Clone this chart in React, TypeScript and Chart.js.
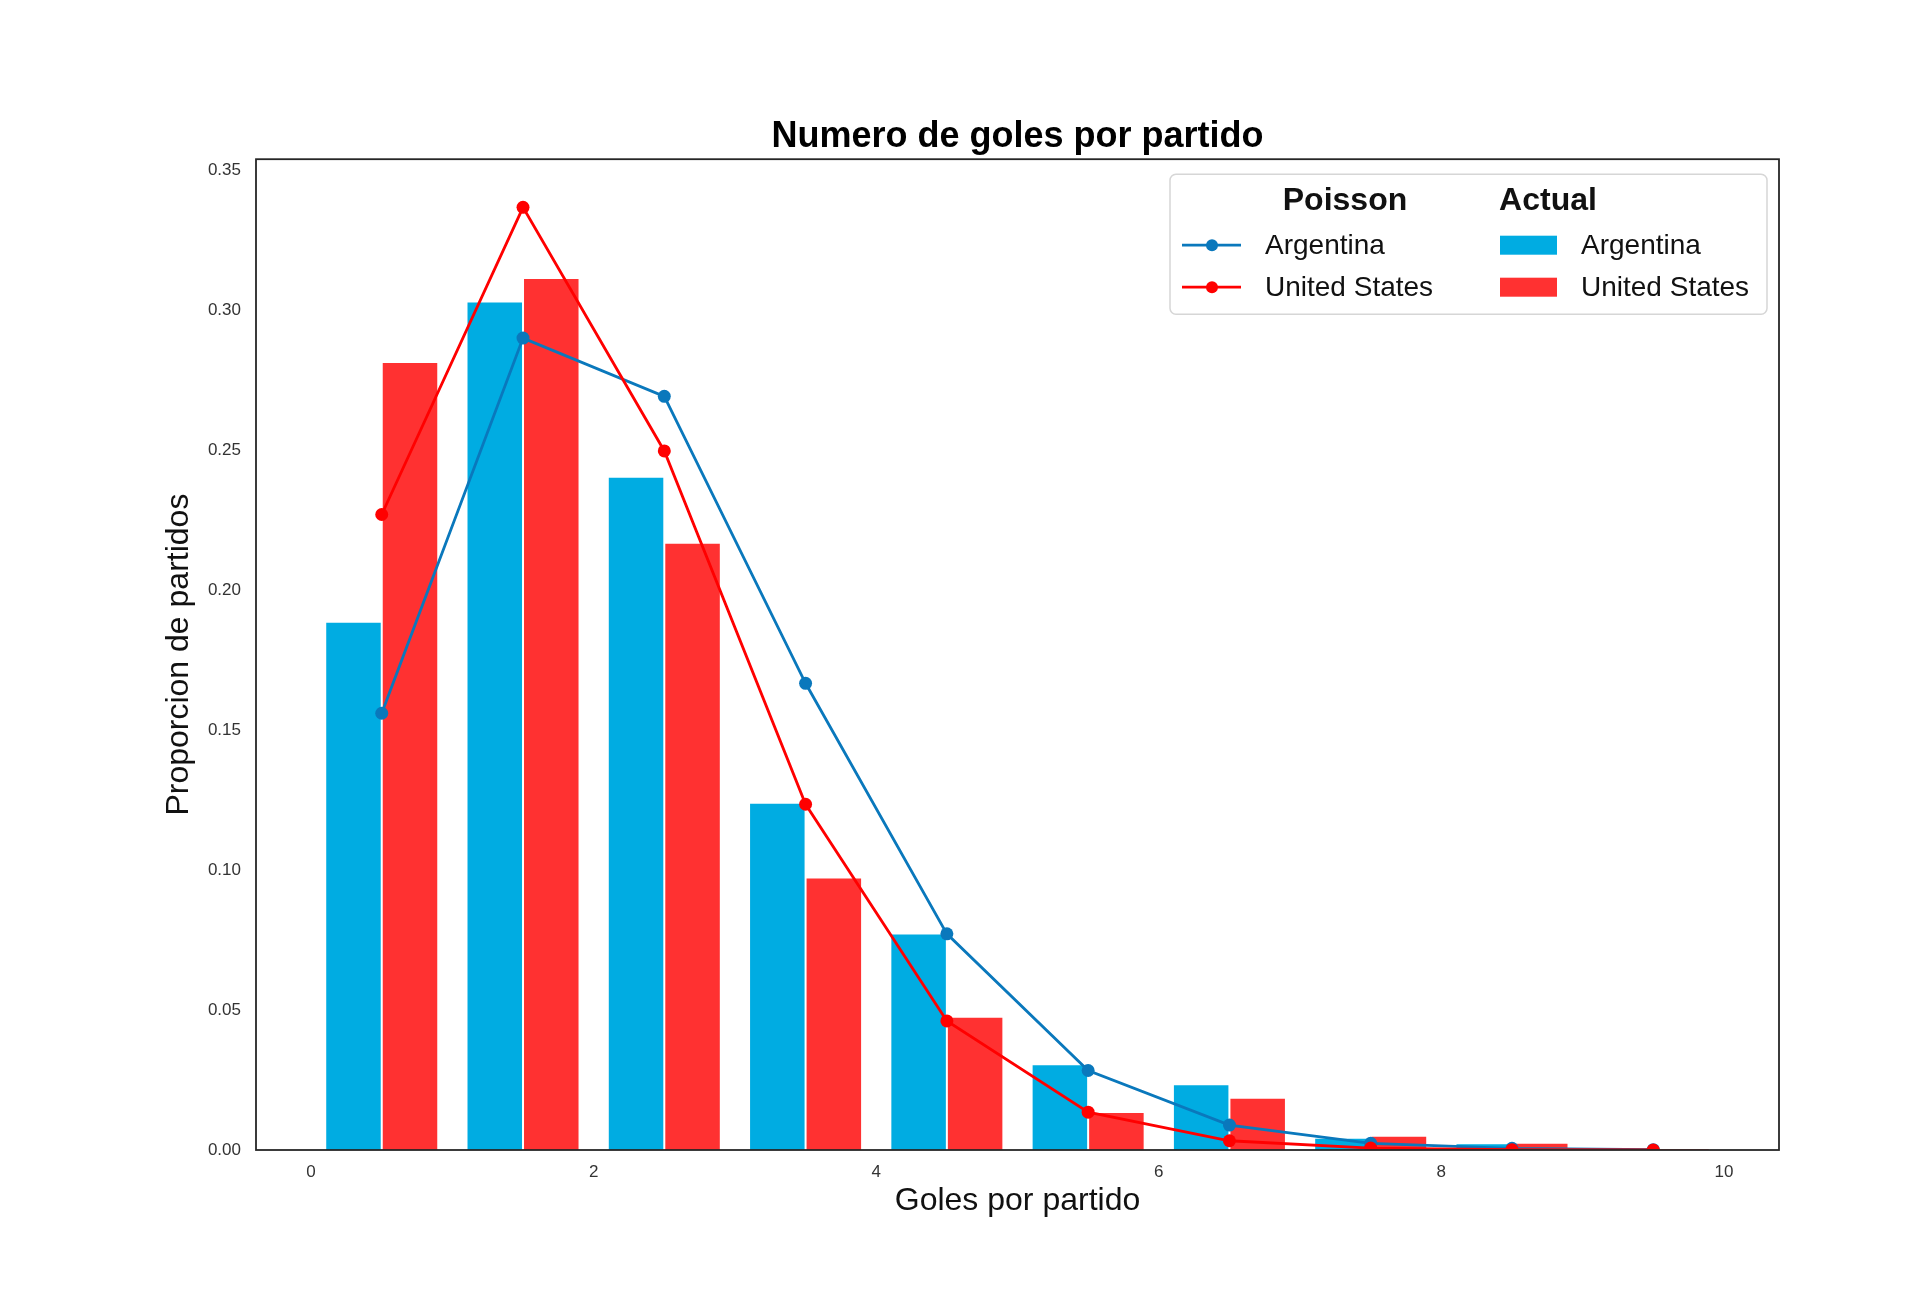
import { useEffect, useRef } from 'react';
import { Chart, registerables, type Plugin } from 'chart.js';

Chart.register(...registerables);

// goals per match (histogram bins); bars/points sit at bin centre
const goals = [0, 1, 2, 3, 4, 5, 6, 7, 8, 9];
const actualArgentina = [0.1887, 0.3031, 0.2405, 0.124, 0.0773, 0.0306, 0.0235, 0.0044, 0.0024, 0.0008];
const actualUS = [0.2815, 0.3115, 0.2169, 0.0973, 0.0476, 0.0136, 0.0187, 0.0051, 0.0026, 0.0005];
const poissonArgentina = [0.156, 0.29, 0.2692, 0.1667, 0.0772, 0.0284, 0.0089, 0.0024, 0.0006, 0.0001];
const poissonUS = [0.227, 0.3367, 0.2497, 0.1235, 0.0461, 0.0135, 0.0033, 0.0007, 0.0001, 0.0];
const xTickStep = 2;
const yTickStep = 0.05;

const FONT = 'Liberation Sans, Arial, Helvetica, sans-serif';
const BLUE_BAR = '#00ACE2';
const RED_BAR = '#FF3131';
const BLUE_LINE = '#0A78BC';
const RED_LINE = '#FF0000';

const pts = (vals: number[]) => goals.map((g, i) => ({ x: g + 0.5, y: vals[i] }));

const framePlugin: Plugin = {
  id: 'axesFrame',
  afterDatasetsDraw(chart) {
    const { ctx, chartArea: a } = chart;
    ctx.save();
    ctx.strokeStyle = '#262626';
    ctx.lineWidth = 1.8;
    ctx.strokeRect(a.left, a.top, a.right - a.left, a.bottom - a.top);
    ctx.restore();
  },
};

// two-column legend: Poisson (lines) | Actual (bars)
const legendPlugin: Plugin = {
  id: 'twoColLegend',
  afterDraw(chart) {
    const { ctx, chartArea: a } = chart;
    const ds = chart.data.datasets as any[];
    const lines = ds.filter((d) => d.type === 'line');
    const bars = ds.filter((d) => d.type === 'bar');
    const bx = a.right - 609;
    const by = a.top + 15;
    const bw = 597;
    const bh = 140;
    ctx.save();
    ctx.beginPath();
    ctx.roundRect(bx, by, bw, bh, 6);
    ctx.fillStyle = 'rgba(255,255,255,0.85)';
    ctx.fill();
    ctx.strokeStyle = '#d6d6d6';
    ctx.lineWidth = 1.5;
    ctx.stroke();

    ctx.fillStyle = '#111';
    ctx.textBaseline = 'middle';
    ctx.textAlign = 'center';
    ctx.font = `bold 32px ${FONT}`;
    ctx.fillText('Poisson', bx + 175, by + 27);
    ctx.fillText('Actual', bx + 378, by + 27);

    const rowY = [by + 71, by + 113];
    ctx.font = `28px ${FONT}`;
    ctx.textAlign = 'left';
    lines.forEach((d, i) => {
      const y = rowY[i];
      ctx.strokeStyle = d.borderColor;
      ctx.lineWidth = d.borderWidth;
      ctx.beginPath();
      ctx.moveTo(bx + 12, y);
      ctx.lineTo(bx + 71, y);
      ctx.stroke();
      ctx.fillStyle = d.borderColor;
      ctx.beginPath();
      ctx.arc(bx + 42, y, 6, 0, Math.PI * 2);
      ctx.fill();
      ctx.fillStyle = '#111';
      ctx.fillText(d.label, bx + 95, y + 1);
    });
    bars.forEach((d, i) => {
      const y = rowY[i];
      ctx.fillStyle = d.backgroundColor;
      ctx.fillRect(bx + 330, y - 9.5, 57, 19);
      ctx.fillStyle = '#111';
      ctx.fillText(d.label, bx + 411, y + 1);
    });
    ctx.restore();
  },
};

export default function App() {
  const canvasRef = useRef<HTMLCanvasElement>(null);

  useEffect(() => {
    const canvas = canvasRef.current;
    if (!canvas) return;
    const chart = new Chart(canvas, {
      type: 'bar',
      data: {
        datasets: [
          {
            type: 'line',
            label: 'Argentina',
            data: pts(poissonArgentina),
            borderColor: BLUE_LINE,
            backgroundColor: BLUE_LINE,
            borderWidth: 2.8,
            pointRadius: 6.5,
            pointBorderWidth: 0,
            order: 1,
          },
          {
            type: 'line',
            label: 'United States',
            data: pts(poissonUS),
            borderColor: RED_LINE,
            backgroundColor: RED_LINE,
            borderWidth: 2.8,
            pointRadius: 6.5,
            pointBorderWidth: 0,
            order: 0,
          },
          {
            type: 'bar',
            label: 'Argentina',
            data: pts(actualArgentina),
            backgroundColor: BLUE_BAR,
            borderColor: '#ffffff',
            borderWidth: 1,
            order: 2,
          },
          {
            type: 'bar',
            label: 'United States',
            data: pts(actualUS),
            backgroundColor: RED_BAR,
            borderColor: '#ffffff',
            borderWidth: 1,
            order: 2,
          },
        ] as any,
      },
      options: {
        responsive: false,
        animation: false,
        devicePixelRatio: 1,
        events: [],
        layout: { padding: { left: 0, right: 141, top: 0, bottom: 0 } },
        datasets: { bar: { categoryPercentage: 0.8, barPercentage: 1 } },
        plugins: {
          legend: { display: false },
          tooltip: { enabled: false },
          title: {
            display: true,
            fullSize: false,
            text: 'Numero de goles por partido',
            color: '#000',
            font: { family: FONT, size: 36, weight: 'bold', lineHeight: 1.2 },
            padding: { top: 115, bottom: 1 },
          },
        },
        scales: {
          x: {
            type: 'linear',
            offset: false,
            min: -0.39,
            max: 10.39,
            grid: { display: false, offset: false },
            border: { display: false },
            ticks: {
              stepSize: xTickStep,
              includeBounds: false,
              padding: 4,
              color: '#333',
              font: { family: FONT, size: 17 },
            },
            title: {
              display: true,
              text: 'Goles por partido',
              color: '#111',
              font: { family: FONT, size: 32 },
              padding: { top: 0, bottom: 96 },
            },
            afterFit: (s: any) => {
              s.height = 166;
            },
          },
          y: {
            type: 'linear',
            min: 0,
            max: 0.3539,
            grid: { display: false },
            border: { display: false },
            ticks: {
              stepSize: yTickStep,
              includeBounds: false,
              padding: 7,
              color: '#333',
              font: { family: FONT, size: 17 },
              callback: (v: any) => Number(v).toFixed(2),
            },
            title: {
              display: true,
              text: 'Proporcion de partidos',
              color: '#111',
              font: { family: FONT, size: 32 },
              padding: { top: 160, bottom: 0 },
            },
            afterFit: (s: any) => {
              s.width = 256;
            },
          },
        },
      },
      plugins: [framePlugin, legendPlugin],
    });
    return () => chart.destroy();
  }, []);

  return (
    <div style={{ position: 'absolute', left: 0, top: 0, width: 1920, height: 1316, background: '#fff' }}>
      <canvas ref={canvasRef} width={1920} height={1316} style={{ width: 1920, height: 1316 }} />
    </div>
  );
}
